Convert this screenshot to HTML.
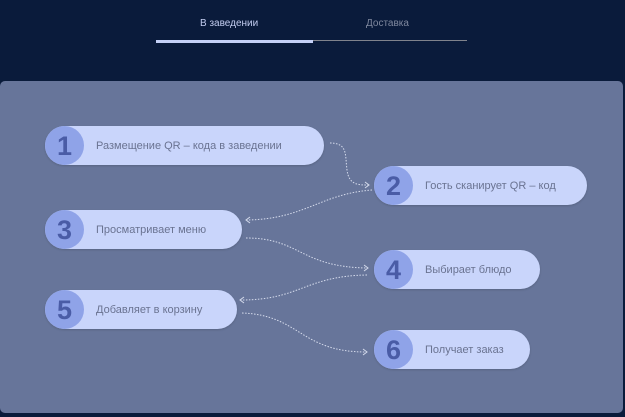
<!DOCTYPE html>
<html><head><meta charset="utf-8"><style>
body{margin:0;width:625px;height:417px;background:#0a1b3b;position:relative;overflow:hidden;font-family:"Liberation Sans","DejaVu Sans",sans-serif}
.tab{position:absolute;top:18px;font-size:10px}
.panel{position:absolute;left:0;top:81px;width:623px;height:332px;background:#67759a;border-radius:5px}
.pill{position:absolute;height:39px;background:#c9d5fb;border-radius:20px;box-shadow:0 1px 2px rgba(0,0,0,.15)}
.pill .c{position:absolute;left:0;top:0;width:39px;height:39px;border-radius:50%;background:#8fa3e8;color:#4a5ca6;font-size:27px;font-weight:bold;text-align:center;line-height:40px}
.pill .t{position:absolute;left:51px;top:1px;line-height:39px;font-size:11px;color:#6a7391;white-space:nowrap}
</style></head><body>
<div class="tab" style="left:200px;color:#c3cdf0">В заведении</div>
<div class="tab" style="left:366px;color:#7f889e">Доставка</div>
<div style="position:absolute;left:313px;top:40px;width:154px;height:1px;background:#80838c"></div>
<div style="position:absolute;left:156px;top:40px;width:157px;height:3px;background:#c5d1f7"></div>
<div class="panel"></div>
<div class="pill" style="left:45px;top:126px;width:279px"><div class="c">1</div><div class="t">Размещение QR – кода в заведении</div></div>
<div class="pill" style="left:374px;top:166px;width:213px"><div class="c">2</div><div class="t">Гость сканирует QR – код</div></div>
<div class="pill" style="left:45px;top:210px;width:197px"><div class="c">3</div><div class="t">Просматривает меню</div></div>
<div class="pill" style="left:374px;top:250px;width:166px"><div class="c">4</div><div class="t">Выбирает блюдо</div></div>
<div class="pill" style="left:45px;top:290px;width:192px"><div class="c">5</div><div class="t">Добавляет в корзину</div></div>
<div class="pill" style="left:374px;top:330px;width:156px"><div class="c">6</div><div class="t">Получает заказ</div></div>
<svg width="625" height="417" style="position:absolute;left:0;top:0" fill="none" stroke="#d5dbec" stroke-width="1" stroke-dasharray="1.5 1.5">
<path d="M330,143 C348,143 345,155 347,170 C349,185 358,185 368,185"/>
<path d="M372,190 C320,194 305,219 247,220"/>
<path d="M246,238 C300,238 300,267 367,268"/>
<path d="M367,275 C305,276 300,300 241,300"/>
<path d="M242,313 C300,315 300,352 366,352"/>
<g stroke-dasharray="none">
<path d="M365,182 L369,185 L365,188"/>
<path d="M250,217 L246,220 L250,223"/>
<path d="M364,265 L368,268 L364,271"/>
<path d="M244,297 L240,300 L244,303"/>
<path d="M363,349 L367,352 L363,355"/>
</g></svg>
</body></html>
